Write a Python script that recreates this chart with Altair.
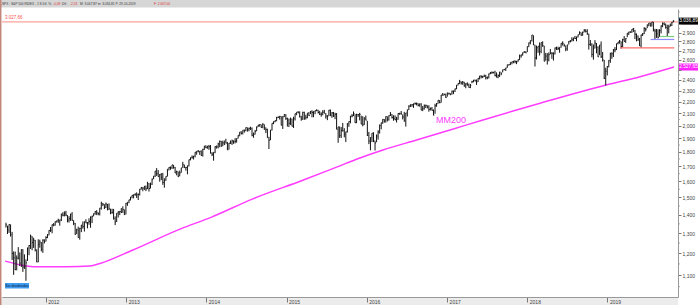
import altair as alt
import pandas as pd

# ---------------- weekly S&P 500 bars ----------------
c2011 = [1344,1316,1346,1292,1199,1179,1124,1177,1174,1154,1216,1136,1131,1155,1225,1238,1285,1253,1264,1216,1159,1244,1255,1219,1265,1258]
h2011 = [1356,1340,1347,1347,1307,1209,1208,1190,1230,1204,1220,1220,1195,1171,1228,1240,1293,1285,1277,1266,1219,1269,1267,1255,1269,1269]
l2011 = [1330,1296,1302,1283,1168,1101,1122,1121,1172,1140,1136,1114,1128,1075,1164,1191,1221,1215,1226,1209,1158,1158,1227,1209,1202,1248]

c2012 = [1278,1289,1315,1316,1345,1343,1361,1366,1370,1371,1404,1397,1408,1398,1370,1378,1403,1369,1353,1295,1318,1278,1325,1343,1335,1362,1355,1357,1363,1386,1391,1406,1418,1411,1407,1438,1466,1460,1441,1461,1429,1433,1412,1414,1380,1360,1409,1416,1418,1413,1430,1402]
h2012 = [1285,1296,1316,1333,1346,1354,1363,1368,1378,1372,1405,1414,1419,1422,1398,1392,1406,1415,1370,1355,1324,1335,1329,1344,1363,1362,1375,1360,1380,1391,1395,1407,1420,1426,1413,1438,1475,1467,1460,1470,1462,1465,1434,1434,1433,1391,1409,1419,1422,1438,1448,1430]
l2012 = [1258,1275,1290,1307,1300,1337,1340,1357,1355,1340,1365,1391,1391,1392,1358,1357,1366,1367,1343,1292,1296,1277,1267,1306,1324,1309,1354,1326,1345,1329,1354,1391,1400,1398,1397,1396,1429,1450,1432,1438,1425,1428,1403,1405,1373,1343,1360,1385,1398,1410,1411,1398]

c2013 = [1466,1472,1486,1503,1513,1518,1520,1516,1518,1551,1561,1557,1569,1553,1588,1555,1582,1614,1634,1667,1650,1631,1643,1627,1593,1606,1632,1680,1692,1691,1709,1691,1655,1664,1633,1655,1688,1710,1692,1691,1703,1745,1760,1762,1771,1798,1805,1806,1805,1775,1818,1841]
h2013 = [1467,1472,1486,1503,1514,1518,1525,1531,1525,1552,1564,1563,1570,1573,1597,1589,1592,1618,1635,1667,1687,1674,1648,1654,1655,1620,1632,1680,1693,1698,1709,1709,1695,1670,1664,1671,1689,1730,1711,1695,1704,1745,1760,1775,1771,1798,1805,1813,1806,1811,1823,1844]
l2013 = [1402,1451,1466,1482,1495,1495,1510,1497,1485,1512,1548,1538,1546,1539,1551,1536,1555,1577,1614,1628,1635,1630,1598,1608,1578,1560,1604,1631,1671,1676,1681,1683,1654,1639,1627,1633,1656,1688,1687,1670,1646,1698,1740,1752,1746,1761,1780,1797,1779,1772,1767,1815]

c2014 = [1831,1842,1838,1790,1783,1797,1838,1836,1859,1878,1841,1866,1857,1865,1815,1864,1863,1881,1878,1878,1900,1924,1949,1937,1963,1961,1985,1968,1978,1978,1925,1931,1955,1988,2003,2008,1985,2011,1983,1967,1906,1887,1965,2018,2032,2039,2064,2068,2075,2003,2071,2089]
h2014 = [1849,1843,1851,1850,1798,1798,1841,1847,1867,1884,1881,1883,1884,1897,1873,1865,1884,1891,1885,1902,1901,1924,1949,1955,1963,1969,1985,1985,1984,1991,1985,1945,1965,1993,2006,2011,2008,2019,2010,1985,1975,1912,1965,2018,2034,2042,2071,2075,2079,2076,2077,2094]
l2014 = [1827,1823,1815,1790,1770,1738,1791,1824,1826,1834,1839,1842,1850,1863,1814,1816,1859,1851,1859,1862,1868,1900,1916,1930,1930,1944,1955,1952,1955,1965,1916,1905,1929,1955,1988,1991,1983,1979,1965,1941,1905,1821,1886,1961,2011,2026,2035,2062,2049,2002,1973,2069]

c2015 = [2058,2045,2019,2051,1995,2055,2097,2110,2104,2071,2053,2108,2061,2067,2102,2081,2117,2108,2116,2123,2126,2107,2092,2094,2110,2101,2077,2077,2127,2080,2104,2078,2092,1971,1989,1921,1961,1958,1932,1951,2015,2033,2075,2079,2099,2023,2089,2090,2092,2012,2006,2061]
h2015 = [2093,2064,2057,2065,2057,2072,2097,2110,2119,2117,2080,2114,2114,2089,2102,2111,2120,2126,2117,2123,2134,2130,2121,2109,2127,2130,2102,2085,2129,2133,2111,2112,2105,2103,1989,1993,1988,2021,1979,1952,2020,2034,2080,2094,2116,2094,2097,2094,2104,2081,2076,2067]
l2015 = [2046,1992,1988,2005,1994,1981,2041,2085,2103,2066,2039,2046,2046,2049,2059,2079,2094,2067,2068,2093,2118,2099,2086,2072,2084,2101,2056,2044,2077,2078,2063,2070,2052,1970,1867,1904,1903,1953,1908,1872,1945,1990,2018,2067,2077,2022,2019,2070,2042,2012,1994,2005]

c2016 = [2044,1922,1880,1907,1940,1880,1865,1918,1948,2000,2022,2050,2036,2073,2048,2081,2092,2065,2057,2047,2052,2099,2099,2096,2071,2037,2103,2130,2162,2175,2174,2183,2184,2184,2169,2180,2128,2139,2165,2168,2153,2133,2141,2126,2085,2164,2182,2213,2192,2260,2258,2264,2239]
h2016 = [2082,2038,1950,1908,1940,1947,1883,1930,1963,2009,2022,2052,2053,2075,2075,2083,2111,2094,2084,2084,2071,2100,2105,2120,2091,2113,2104,2131,2169,2176,2178,2183,2194,2193,2187,2184,2187,2163,2176,2175,2169,2169,2150,2154,2133,2182,2189,2214,2214,2260,2278,2273,2273]
l2016 = [2043,1918,1857,1812,1872,1872,1810,1871,1891,1937,1970,2014,2023,2024,2033,2040,2078,2057,2039,2044,2025,2047,2088,2089,2050,2032,1992,2074,2128,2154,2156,2147,2174,2168,2160,2157,2127,2119,2132,2145,2142,2114,2125,2123,2084,2097,2156,2183,2187,2192,2254,2258,2234]

c2017 = [2277,2275,2271,2295,2297,2316,2351,2367,2383,2373,2378,2344,2363,2356,2329,2349,2384,2399,2391,2382,2416,2439,2432,2433,2438,2423,2425,2459,2473,2472,2477,2441,2426,2443,2477,2461,2500,2502,2519,2549,2553,2575,2581,2588,2582,2579,2602,2642,2652,2675,2683,2674]
h2017 = [2282,2280,2273,2300,2300,2319,2352,2368,2401,2386,2390,2382,2370,2378,2366,2362,2392,2400,2404,2405,2418,2440,2446,2441,2453,2450,2433,2463,2478,2484,2478,2490,2474,2454,2480,2475,2500,2509,2520,2552,2555,2575,2582,2589,2598,2591,2605,2657,2656,2679,2695,2692]
l2017 = [2245,2263,2258,2263,2268,2287,2313,2348,2361,2356,2354,2336,2322,2345,2328,2323,2369,2378,2387,2353,2381,2405,2415,2418,2430,2405,2407,2415,2456,2459,2464,2437,2425,2417,2429,2446,2474,2496,2488,2520,2542,2547,2555,2566,2566,2557,2580,2599,2624,2645,2676,2673]

c2018 = [2743,2786,2810,2873,2762,2620,2732,2747,2691,2786,2752,2588,2641,2604,2656,2670,2670,2663,2728,2713,2721,2735,2779,2780,2755,2718,2760,2801,2802,2819,2840,2833,2850,2875,2902,2872,2905,2929,2914,2886,2767,2768,2659,2723,2781,2736,2633,2760,2633,2600,2417,2486]
h2018 = [2743,2787,2810,2873,2870,2763,2754,2747,2789,2787,2802,2752,2675,2672,2680,2717,2683,2682,2733,2742,2742,2736,2779,2801,2775,2755,2763,2804,2816,2848,2841,2863,2855,2877,2916,2902,2912,2941,2940,2940,2889,2816,2780,2766,2815,2782,2746,2760,2800,2685,2601,2520]
l2018 = [2683,2737,2768,2800,2759,2533,2605,2675,2647,2672,2741,2585,2593,2553,2586,2660,2612,2594,2658,2707,2705,2676,2732,2754,2742,2692,2698,2766,2789,2800,2803,2828,2802,2845,2876,2864,2864,2904,2903,2875,2710,2750,2628,2603,2723,2670,2631,2650,2621,2584,2409,2347]

c2019 = [2532,2596,2671,2665,2707,2708,2776,2793,2804,2743,2822,2800,2834,2893,2907,2905,2940,2946,2881,2860,2826,2752,2873,2887,2950,2942,2990,3014,2977,3026,2932,2919,2889,2847,2926,2979,3007,2992,2962,2952,2970,2986,3023,3037]
h2019 = [2538,2598,2675,2681,2717,2738,2776,2795,2816,2801,2830,2861,2836,2894,2910,2917,2940,2955,2932,2892,2868,2840,2876,2895,2964,2958,2996,3014,3018,3028,3028,2945,2943,2939,2941,2985,3021,3022,3008,2993,2993,3008,3027,3048]
l2019 = [2444,2524,2570,2612,2631,2681,2705,2767,2775,2722,2733,2800,2785,2848,2873,2898,2898,2907,2826,2801,2805,2750,2729,2861,2883,2914,2953,2976,2975,2973,2914,2822,2840,2834,2853,2891,2964,2990,2946,2855,2892,2972,2978,3023]

close = c2011 + c2012 + c2013 + c2014 + c2015 + c2016 + c2017 + c2018 + c2019
high = h2011 + h2012 + h2013 + h2014 + h2015 + h2016 + h2017 + h2018 + h2019
low = l2011 + l2012 + l2013 + l2014 + l2015 + l2016 + l2017 + l2018 + l2019
first_week = "2011-07-04"

# ---------------- 200-period moving average (MM200) ----------------
mm_dates = ["2011-06-30", "2011-09-28", "2011-11-06", "2012-04-06", "2012-07-20", "2012-09-04",
            "2013-02-01", "2013-09-03", "2014-01-25", "2014-08-01", "2015-03-16", "2015-08-17",
            "2015-12-01", "2016-03-15", "2016-08-15", "2017-01-14", "2017-06-13", "2017-11-13",
            "2018-02-28", "2018-12-25", "2019-05-29", "2019-10-31"]
mm_vals = [1163, 1142, 1137, 1137, 1140, 1152, 1216, 1322, 1387, 1492, 1607, 1694,
           1757, 1814, 1888, 1965, 2045, 2128, 2187, 2353, 2432, 2528]

# ---------------- levels and labels ----------------
resistance = 3027.66
resistance_label = "3.027,66"
lvl_start = ["2019-02-27", "2019-07-16", "2019-08-28"]
lvl_end = ["2019-11-01", "2019-11-01", "2019-11-01"]
lvl_value = [2728.81, 2822.12, 2855.96]
lvl_color = ["#ff6b6b", "#8c8cff", "#7ccf7c"]

last_price = 3036.89
last_label = "3.036,89"
mm_last = 2527.65
mm_label = "2.527,65"

year_ticks = list(range(2012, 2020))
price_ticks = list(range(1100, 3001, 100))
hidden_price_labels = [2500, 3000]   # covered by the price boxes in the reference
minor_ticks = [v for v in range(1050, 3151, 50) if v % 100 != 0]

header_parts = [",SPX : S&P 500 INDEX - 1 S Dif. %:", "-0,08", "Dif.:", "-2,53",
                "M: 3.047,87  m: 3.034,81  P: 29-10-2019", "F: 2.607,00"]
header_x = [1, 53, 62, 70, 80, 154]
header_col = ["#333", "#e03030", "#333", "#e03030", "#333", "#e03030"]

# ---------------- build ----------------
FONT = "Liberation Sans"
df = pd.DataFrame({"date": pd.date_range(first_week, periods=len(close), freq="7D"),
                   "high": high, "low": low, "close": close})
df["tick_end"] = df["date"] + pd.Timedelta(days=4)

mm = pd.DataFrame({"date": pd.to_datetime(mm_dates), "v": mm_vals})
lv = pd.DataFrame({"start": pd.to_datetime(lvl_start), "end": pd.to_datetime(lvl_end),
                   "v": lvl_value, "col": lvl_color})
one = pd.DataFrame({"k": [0]})

xscale = alt.Scale(domain=[alt.DateTime(year=2011, month=6, date=16),
                           alt.DateTime(year=2019, month=11, date=18)], nice=False)
yscale = alt.Scale(type="log", domain=[1007.5, 3188], nice=False)
xaxis = alt.Axis(values=[alt.DateTime(year=y, month=1, date=1) for y in year_ticks],
                 format="%Y", labelAlign="left", labelBaseline="top", labelOffset=2,
                 labelPadding=-3, tickSize=5, labelFontSize=5, labelColor="#444",
                 labelFont=FONT, tickColor="#777", domainColor="#999", grid=False,
                 zindex=1, labelFlush=False, labelOverlap=False)
hide_expr = " || ".join(f"datum.value == {v}" for v in hidden_price_labels)
yaxis = alt.Axis(orient="right", values=price_ticks, format=",", tickSize=3,
                 labelPadding=1, labelFontSize=5, labelColor="#444", labelFont=FONT,
                 tickColor="#777", domainColor="#999", grid=False, zindex=1,
                 labelOverlap=False, labelFlush=False,
                 labelExpr=f"({hide_expr}) ? '' : datum.label")


def X(f):
    return alt.X(f, type="temporal", scale=xscale, axis=xaxis, title=None)


def Y(f):
    return alt.Y(f, type="quantitative", scale=yscale, axis=yaxis, title=None)


bars = alt.Chart(df).mark_rule(color="#111", strokeWidth=1).encode(
    x=X("date"), y=Y("low"), y2=alt.Y2("high"))
ticks = alt.Chart(df).mark_rule(color="#111", strokeWidth=1).encode(
    x=X("date"), x2=alt.X2("tick_end"), y=Y("close"))

mm_line = alt.Chart(mm).mark_line(color="#ff3cff", strokeWidth=1.5, interpolate="monotone").encode(
    x=X("date"), y=Y("v"))

res_line = alt.Chart(pd.DataFrame({"v": [resistance]})).mark_rule(
    color="#ff8a80", strokeWidth=1).encode(x=alt.value(0), x2=alt.value(676), y=Y("v"))
res_text = alt.Chart(pd.DataFrame({"v": [resistance], "t": [resistance_label]})).mark_text(
    align="left", baseline="bottom", dy=-1.5, fontSize=4.5, font=FONT, color="#ff5050").encode(
    x=alt.value(3), y=Y("v"), text="t:N")

lvl_lines = alt.Chart(lv).mark_rule(strokeWidth=1.2).encode(
    x=X("start"), x2=alt.X2("end"), y=Y("v"), color=alt.Color("col:N", scale=None))

mm_text = alt.Chart(one).mark_text(text="MM200", align="left", baseline="alphabetic",
                                   fontSize=9, font=FONT, color="#ff3cff").encode(
    x=alt.value(434), y=alt.value(114))

sin_box = alt.Chart(one).mark_rect(color="#3d9bf0").encode(
    x=alt.value(3), x2=alt.value(27), y=alt.value(274), y2=alt.value(279.5))
sin_text = alt.Chart(one).mark_text(text="Sin dividendos", align="center", baseline="middle",
                                    fontSize=3.6, font=FONT, color="#102040").encode(
    x=alt.value(15), y=alt.value(276.8))

bottom_strip = alt.Chart(one).mark_rect(color="#ececec").encode(
    x=alt.value(-2), x2=alt.value(676), y=alt.value(288), y2=alt.value(296))
header_bar = alt.Chart(one).mark_rect(color="#d6d6d6").encode(
    x=alt.value(-2), x2=alt.value(698), y=alt.value(-9), y2=alt.value(-1.5))
left_border = alt.Chart(one).mark_rule(color="#c4867a", strokeWidth=1.5).encode(
    x=alt.value(-1.3), y=alt.value(-9), y2=alt.value(296))

header_texts = [
    alt.Chart(one).mark_text(text=t, align="left", baseline="middle", fontSize=3.2,
                             font=FONT, color=c).encode(x=alt.value(x - 2), y=alt.value(-5))
    for t, x, c in zip(header_parts, header_x, header_col)
]

minor = alt.Chart(pd.DataFrame({"v": minor_ticks})).mark_rule(color="#999", strokeWidth=0.8).encode(
    x=alt.value(676), x2=alt.value(678), y=Y("v"))

last_box = alt.Chart(pd.DataFrame({"v": [last_price]})).mark_rect(color="#000", height=7).encode(
    x=alt.value(677), x2=alt.value(696), y=Y("v"))
last_text = alt.Chart(pd.DataFrame({"v": [last_price], "t": [last_label]})).mark_text(
    align="center", baseline="middle", fontSize=4.8, font=FONT, color="white").encode(
    x=alt.value(686.5), y=Y("v"), text="t:N")
mm_box = alt.Chart(pd.DataFrame({"v": [mm_last]})).mark_rect(color="#ff22ff", height=7).encode(
    x=alt.value(677), x2=alt.value(696), y=Y("v"))
mm_box_text = alt.Chart(pd.DataFrame({"v": [mm_last], "t": [mm_label]})).mark_text(
    align="center", baseline="middle", fontSize=4.8, font=FONT, color="white").encode(
    x=alt.value(686.5), y=Y("v"), text="t:N")

chart = alt.layer(
    bottom_strip, header_bar, left_border, *header_texts, minor,
    res_line, res_text, mm_line, bars, ticks, lvl_lines, mm_text, sin_box, sin_text,
    last_box, last_text, mm_box, mm_box_text,
).properties(
    width=676, height=288,
    padding={"left": 2, "top": 9, "right": 22, "bottom": 8},
    autosize=alt.AutoSizeParams(type="none"),
    background="white",
).configure_view(strokeWidth=0)

chart.save("out.html", embed_options={"renderer": "svg", "actions": False})
